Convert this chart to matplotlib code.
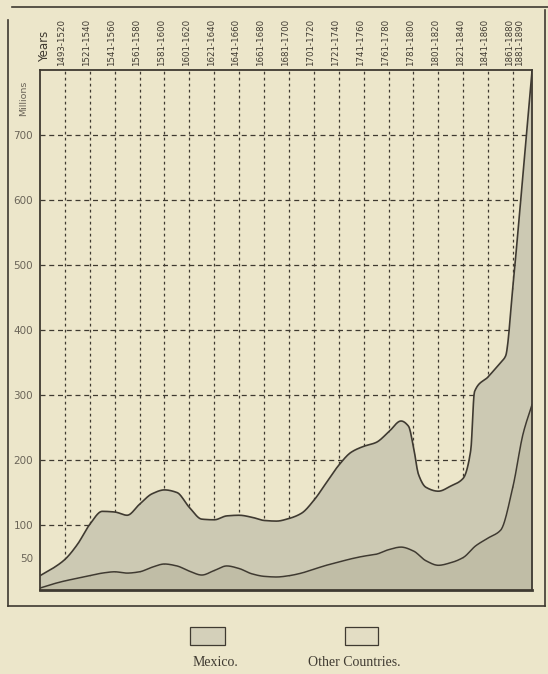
import numpy as np
import matplotlib.pyplot as plt
from matplotlib.patches import Rectangle
from matplotlib.lines import Line2D
import matplotlib.transforms as mtransforms

# period headings along the top; column k ends at x = k
periods = ["1493-1520", "1521-1540", "1541-1560", "1561-1580", "1581-1600",
           "1601-1620", "1621-1640", "1641-1660", "1661-1680", "1681-1700",
           "1701-1720", "1721-1740", "1741-1760", "1761-1780", "1781-1800",
           "1801-1820", "1821-1840", "1841-1860", "1861-1880", "1881-1890"]
period_x = [1, 2, 3, 4, 5, 6, 7, 8, 9, 10, 11, 12, 13, 14, 15, 16, 17, 18, 19, 19.38]
y_ticks = [50, 100, 200, 300, 400, 500, 600, 700]
grid_y = [100, 200, 300, 400, 500, 600, 700]

# total production (Mexico + other countries), millions
total_x = [0, 0.5, 1, 1.5, 2, 2.5, 3, 3.5, 4, 4.5, 5, 5.5, 6, 6.5, 7, 7.5, 8,
           8.5, 9, 9.5, 10, 10.5, 11, 11.5, 12, 12.5, 13, 13.5, 14, 14.5,
           14.8, 15, 15.2, 15.5, 16, 16.5, 17, 17.3, 17.45, 18, 18.5, 18.7,
           19, 19.4, 19.76]
total_v = [22, 33, 47, 70, 101, 121, 120, 115, 132, 148, 154, 150, 127, 109,
           108, 114, 115, 112, 107, 106, 110, 118, 138, 165, 192, 212, 221,
           227, 243, 260, 252, 220, 178, 158, 152, 160, 172, 215, 305, 328,
           350, 360, 470, 640, 798]

# Mexico alone, millions
mexico_x = [0, 0.5, 1, 1.5, 2, 2.5, 3, 3.5, 4, 4.5, 5, 5.5, 6, 6.5, 7, 7.5, 8,
            8.5, 9, 9.5, 10, 10.5, 11, 11.5, 12, 12.5, 13, 13.5, 14, 14.5, 15,
            15.5, 16, 16.5, 17, 17.5, 18, 18.5, 19, 19.4, 19.76]
mexico_v = [3, 9, 14, 18, 22, 26, 28, 26, 28, 35, 40, 37, 29, 23, 30, 37, 33,
            25, 21, 20, 22, 26, 32, 38, 43, 48, 52, 55, 62, 66, 60, 45, 38,
            42, 50, 68, 80, 92, 160, 240, 285]

paper = "#ece6ca"
ink = "#3f3a31"
c_mexico = "#c0bda6"
c_other = "#ccc9b3"


def pchip(x, y, xs):
    # monotone cubic through the read points, keeps the bumps from overshooting
    x = np.asarray(x, float)
    y = np.asarray(y, float)
    h = np.diff(x)
    d = np.diff(y) / h
    m = np.zeros_like(y)
    for k in range(1, len(y) - 1):
        if d[k - 1] * d[k] > 0:
            w1 = 2 * h[k] + h[k - 1]
            w2 = h[k] + 2 * h[k - 1]
            m[k] = (w1 + w2) / (w1 / d[k - 1] + w2 / d[k])
    m[0] = d[0]
    m[-1] = d[-1]
    i = np.clip(np.searchsorted(x, xs) - 1, 0, len(h) - 1)
    t = (xs - x[i]) / h[i]
    h00 = 2 * t**3 - 3 * t**2 + 1
    h10 = t**3 - 2 * t**2 + t
    h01 = -2 * t**3 + 3 * t**2
    h11 = t**3 - t**2
    return h00 * y[i] + h10 * h[i] * m[i] + h01 * y[i + 1] + h11 * h[i] * m[i + 1]


W, H = 548, 674
fig = plt.figure(figsize=(W / 100, H / 100), dpi=100, facecolor=paper)
ax = fig.add_axes([40 / W, 1 - 590 / H, 492 / W, 520 / H], facecolor=paper)

xmax = 19.76
ax.set_xlim(0, xmax)
ax.set_ylim(0, 800)

# dashed grid sits behind the filled areas
for gy in grid_y:
    ax.axhline(gy, color=ink, lw=0.9, dashes=(4, 3), zorder=1)
for gx in period_x[:-1]:
    ax.axvline(gx, color=ink, lw=0.9, dashes=(2.2, 2.6), zorder=1)

xs = np.linspace(0, xmax, 900)
tot = pchip(total_x, total_v, xs)
mex = pchip(mexico_x, mexico_v, xs)

ax.fill_between(xs, mex, tot, color=c_other, lw=0, zorder=2)
ax.fill_between(xs, 0, mex, color=c_mexico, lw=0, zorder=2)
ax.plot(xs, tot, color=ink, lw=1.2, zorder=3)
ax.plot(xs, mex, color=ink, lw=1.1, zorder=3)

for s in ax.spines.values():
    s.set_color(ink)
    s.set_linewidth(1.3)
ax.spines["bottom"].set_linewidth(2)

ax.set_xticks([])
ax.set_yticks(y_ticks)
ax.set_yticklabels([str(v) for v in y_ticks])
ax.tick_params(axis="y", length=0, pad=5, labelsize=7.5, labelcolor="#6a6458")

# period headings, rotated, standing on the top frame line
trans = mtransforms.blended_transform_factory(ax.transData, ax.transAxes)
for px, lab in zip(period_x, periods):
    ax.text(px - 0.13, 1.008, lab, rotation=90, ha="center", va="bottom",
            fontsize=6.2, color=ink, transform=trans)
ax.text(0.17, 1.015, "Years", rotation=90, ha="center", va="bottom",
        fontsize=8.5, color=ink, transform=trans)
fig.text(24 / W, 1 - 98 / H, "Millions", rotation=90, ha="center",
         va="center", fontsize=6.8, color="#6a6458")

# outer border
for x0, y0, x1, y1 in [(12, 7, 548, 7), (8, 20, 8, 606), (8, 606, 545, 606),
                       (545, 10, 545, 606)]:
    fig.add_artist(Line2D([x0 / W, x1 / W], [1 - y0 / H, 1 - y1 / H],
                          color=ink, lw=1.2, transform=fig.transFigure))

# legend boxes
fig.add_artist(Rectangle((190 / W, 1 - 645 / H), 35 / W, 18 / H,
                         facecolor="#d4d0ba", edgecolor=ink, lw=0.9,
                         transform=fig.transFigure))
fig.add_artist(Rectangle((345 / W, 1 - 645 / H), 33 / W, 18 / H,
                         facecolor="#e3ddc4", edgecolor=ink, lw=0.9,
                         transform=fig.transFigure))
fig.text(215 / W, 1 - 662 / H, "Mexico.", ha="center", va="center",
         fontsize=10, family="Liberation Serif", color=ink)
fig.text(354 / W, 1 - 662 / H, "Other Countries.", ha="center", va="center",
         fontsize=10, family="Liberation Serif", color=ink)

fig.savefig("out.png", dpi=100, facecolor=paper)
